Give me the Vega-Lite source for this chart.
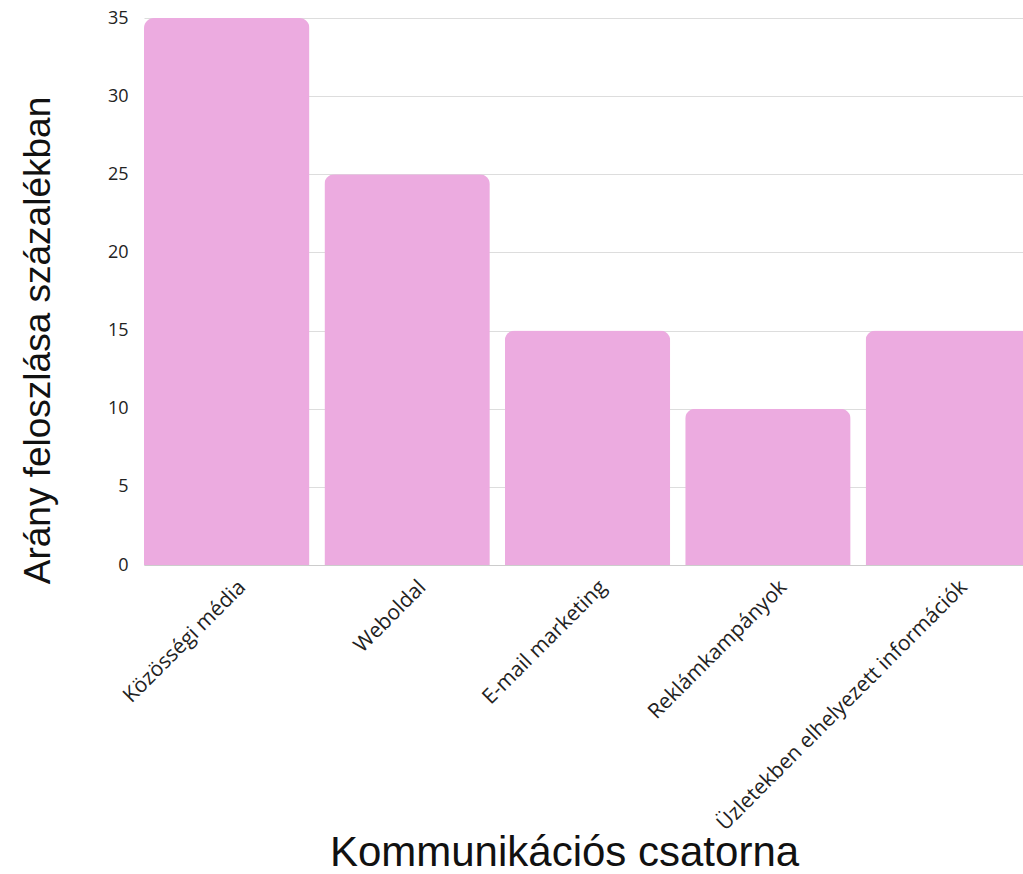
{
  "$schema": "https://vega.github.io/schema/vega-lite/v6.json",
  "autosize": {"type": "none"},
  "width": 887,
  "height": 547,
  "padding": {"left": 144, "top": 18, "right": 0, "bottom": 309},
  "background": "white",
  "data": {"values": [
    {"csatorna": "Közösségi média", "arany": 35},
    {"csatorna": "Weboldal", "arany": 25},
    {"csatorna": "E-mail marketing", "arany": 15},
    {"csatorna": "Reklámkampányok", "arany": 10},
    {"csatorna": "Üzletekben elhelyezett információk", "arany": 15}
  ]},
  "mark": {"type": "bar", "color": "#ECABE0", "cornerRadiusTopLeft": 10, "cornerRadiusTopRight": 10},
  "encoding": {
    "x": {
      "field": "csatorna", "type": "nominal", "sort": null,
      "scale": {"paddingInner": 0.083, "paddingOuter": 0},
      "axis": {
        "title": "Kommunikációs csatorna",
        "titleFont": "Liberation Sans", "titleFontSize": 42, "titleFontWeight": "normal", "titleColor": "#111",
        "titleX": 420, "titleY": 300, "titleBaseline": "alphabetic",
        "labelAngle": -45, "labelFont": "Open Sans", "labelFontSize": 21, "labelColor": "#222",
        "labelPadding": 11, "labelOffset": 8, "ticks": false, "domain": true, "domainColor": "#ccc", "labelLimit": 400
      }
    },
    "y": {
      "field": "arany", "type": "quantitative",
      "scale": {"domain": [0, 35]},
      "axis": {
        "title": "Arány feloszlása százalékban",
        "titleFont": "Liberation Sans", "titleFontSize": 37, "titleFontWeight": "normal", "titleColor": "#111",
        "titlePadding": 50, "titleY": 322, "titleAlign": "center",
        "values": [0, 5, 10, 15, 20, 25, 30, 35],
        "labelFont": "Open Sans", "labelFontSize": 18, "labelColor": "#222", "labelPadding": 16,
        "ticks": false, "domain": false, "grid": true, "gridColor": "#dddddd"
      }
    }
  },
  "config": {"view": {"stroke": null}}
}
